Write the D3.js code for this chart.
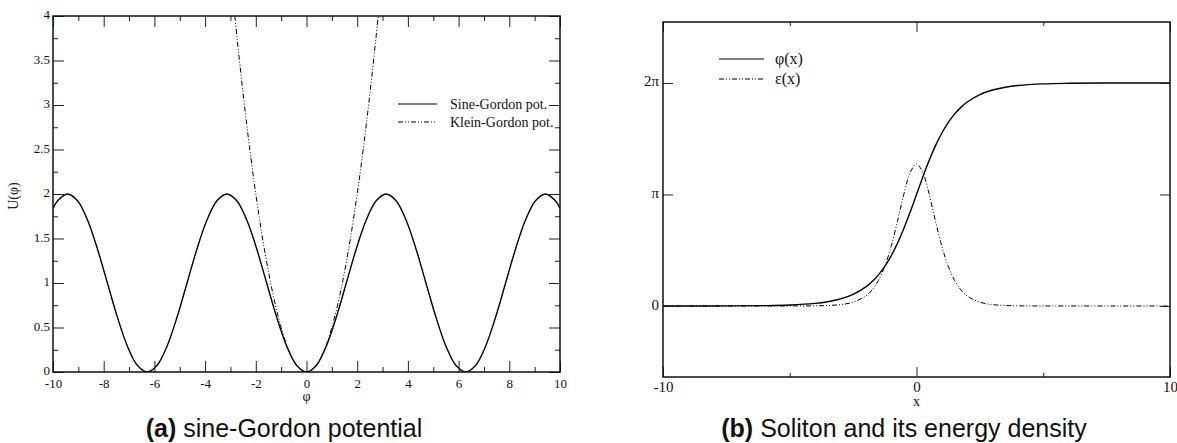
<!DOCTYPE html>
<html>
<head>
<meta charset="utf-8">
<script src="https://cdn.jsdelivr.net/npm/d3@7"></script>
<style>
  body { margin: 0; background: #fff; }
  svg { display: block; }
</style>
</head>
<body>
<svg id="chart" width="1177" height="443"></svg>
<script>
// ---- panel (a): sine-Gordon vs Klein-Gordon potential ----
const phiGrid = [
  -10, -9.817, -9.425, -9.032, -8.639, -8.247, -7.854, -7.461, -7.069, -6.676,
  -6.283, -5.890, -5.498, -5.105, -4.712, -4.320, -3.927, -3.534, -3.142, -2.749,
  -2.356, -1.963, -1.571, -1.178, -0.785, -0.393, 0,
  0.393, 0.785, 1.178, 1.571, 1.963, 2.356, 2.749, 3.142, 3.534, 3.927,
  4.320, 4.712, 5.105, 5.498, 5.890, 6.283, 6.676, 7.069, 7.461, 7.854,
  8.247, 8.639, 9.032, 9.425, 9.817, 10
];
const sineGordonPot = [
  1.839, 1.924, 2, 1.924, 1.707, 1.383, 1, 0.617, 0.293, 0.076,
  0, 0.076, 0.293, 0.617, 1, 1.383, 1.707, 1.924, 2, 1.924,
  1.707, 1.383, 1, 0.617, 0.293, 0.076, 0,
  0.076, 0.293, 0.617, 1, 1.383, 1.707, 1.924, 2, 1.924, 1.707,
  1.383, 1, 0.617, 0.293, 0.076, 0, 0.076, 0.293, 0.617, 1,
  1.383, 1.707, 1.924, 2, 1.924, 1.839
];
const kgPhi = [
  -2.828, -2.75, -2.5, -2.25, -2, -1.75, -1.5, -1.25, -1, -0.75, -0.5, -0.25, 0,
  0.25, 0.5, 0.75, 1, 1.25, 1.5, 1.75, 2, 2.25, 2.5, 2.75, 2.828
];
const kleinGordonPot = [
  4, 3.781, 3.125, 2.531, 2, 1.531, 1.125, 0.781, 0.5, 0.281, 0.125, 0.031, 0,
  0.031, 0.125, 0.281, 0.5, 0.781, 1.125, 1.531, 2, 2.531, 3.125, 3.781, 4
];
const xTicksA = [-10, -8, -6, -4, -2, 0, 2, 4, 6, 8, 10];
const xMinorA = [-9, -7, -5, -3, -1, 1, 3, 5, 7, 9];
const yTicksA = [0, 0.5, 1, 1.5, 2, 2.5, 3, 3.5, 4];
const yMinorA = [0.25, 0.75, 1.25, 1.75, 2.25, 2.75, 3.25, 3.75];
const legendA = ['Sine-Gordon pot.', 'Klein-Gordon pot.'];

// ---- panel (b): kink and its energy density ----
const xGrid = [
  -10, -8, -6, -5, -4, -3.5, -3, -2.5, -2, -1.75, -1.5, -1.25, -1, -0.75, -0.5, -0.25, 0,
  0.25, 0.5, 0.75, 1, 1.25, 1.5, 1.75, 2, 2.5, 3, 3.5, 4, 5, 6, 8, 10
];
const kinkPhi = [
  0, 0.001, 0.010, 0.027, 0.073, 0.121, 0.199, 0.328, 0.538, 0.688, 0.878, 1.117, 1.410, 1.766, 2.181, 2.646, 3.1416,
  3.637, 4.102, 4.517, 4.873, 5.166, 5.405, 5.595, 5.745, 5.955, 6.084, 6.162, 6.210, 6.256, 6.273, 6.282, 6.283
];
const energyDensity = [
  0, 0, 0.0001, 0.0007, 0.0054, 0.0146, 0.0395, 0.106, 0.283, 0.455, 0.723, 1.122, 1.680, 2.386, 3.146, 3.760, 4,
  3.760, 3.146, 2.386, 1.680, 1.122, 0.723, 0.455, 0.283, 0.106, 0.0395, 0.0146, 0.0054, 0.0007, 0.0001, 0, 0
];
const xTicksB = [-10, 0, 10];
const xMinorB = [-5, 5];
const yTicksB = [0, 3.1416, 6.2832];
const yTickLabelsB = ['0', '\u03c0', '2\u03c0'];
const legendB = ['\u03c6(x)', '\u03b5(x)'];

const serif = '"Liberation Serif", "Times New Roman", serif';
const sans = '"Liberation Sans", Arial, sans-serif';
const dashDotDot = '5,2,1,2,1,2';

const svg = d3.select('#chart');

function drawTicks(g, x, y, opt) {
  const [x0, x1] = x.range();
  const [y0, y1] = y.range();

  const sides = [
    { axis: d3.axisBottom(x), t: `translate(0,${y0})`, major: opt.xMajor, minor: opt.xMinor, fmt: opt.xFmt, pad: opt.xPad },
    { axis: d3.axisTop(x), t: `translate(0,${y1})`, major: opt.xMajor, minor: opt.xMinor, fmt: () => '' },
    { axis: d3.axisLeft(y), t: `translate(${x0},0)`, major: opt.yMajor, minor: opt.yMinor, fmt: opt.yFmt, pad: opt.yPad, left: true },
    { axis: d3.axisRight(y), t: `translate(${x1},0)`, major: opt.yMajor, minor: opt.yMinor, fmt: () => '' }
  ];

  sides.forEach(s => {
    const ax = g.append('g')
      .attr('transform', s.t)
      .call(s.axis.tickValues(s.major).tickSizeInner(-opt.majorLen).tickSizeOuter(0)
        .tickPadding(s.pad || 3).tickFormat(s.fmt));
    ax.select('.domain').remove();
    ax.selectAll('.tick line').attr('stroke', '#222').attr('stroke-width', 1);
    ax.selectAll('.tick text')
      .attr('fill', '#111')
      .style('font-family', serif)
      .style('font-size', opt.fontSize + 'px');
    if (s.left) ax.selectAll('.tick text').attr('dy', '0.2em');

    if (s.minor.length) {
      const am = g.append('g')
        .attr('transform', s.t)
        .call(s.axis.tickValues(s.minor).tickSizeInner(-opt.minorLen).tickFormat(() => ''));
      am.select('.domain').remove();
      am.selectAll('.tick line').attr('stroke', '#222').attr('stroke-width', 1);
    }
  });

  g.append('rect')
    .attr('x', x0).attr('y', y1)
    .attr('width', x1 - x0).attr('height', y0 - y1)
    .attr('fill', 'none')
    .attr('stroke', '#111')
    .attr('stroke-width', 1.5);
}

function clipFor(id, x, y) {
  svg.append('clipPath').attr('id', id)
    .append('rect')
    .attr('x', x.range()[0]).attr('y', y.range()[1])
    .attr('width', x.range()[1] - x.range()[0])
    .attr('height', y.range()[0] - y.range()[1]);
}

// ================= panel (a) =================
const xA = d3.scaleLinear().domain([-10, 10]).range([53, 560]);
const yA = d3.scaleLinear().domain([0, 4]).range([372, 16]);
const gA = svg.append('g');
clipFor('clipA', xA, yA);

const lineA = d3.line().curve(d3.curveCatmullRom.alpha(0.5));

gA.append('path')
  .attr('clip-path', 'url(#clipA)')
  .attr('d', lineA(phiGrid.map((p, i) => [xA(p), yA(sineGordonPot[i])])))
  .attr('fill', 'none')
  .attr('stroke', '#000')
  .attr('stroke-width', 1.4);

gA.append('path')
  .attr('clip-path', 'url(#clipA)')
  .attr('d', lineA(kgPhi.map((p, i) => [xA(p), yA(kleinGordonPot[i])])))
  .attr('fill', 'none')
  .attr('stroke', '#000')
  .attr('stroke-width', 1)
  .attr('stroke-dasharray', dashDotDot);

drawTicks(gA, xA, yA, {
  xMajor: xTicksA, xMinor: xMinorA, yMajor: yTicksA, yMinor: yMinorA,
  xFmt: d => String(d), yFmt: d => String(d),
  majorLen: 11, minorLen: 5, xPad: 7, yPad: 3, fontSize: 13
});

gA.append('text')
  .attr('transform', 'translate(18,196) rotate(-90)')
  .attr('text-anchor', 'middle')
  .style('font-family', serif)
  .style('font-size', '14px')
  .attr('fill', '#222')
  .text('U(\u03c6)');

gA.append('text')
  .attr('x', xA(0)).attr('y', 401)
  .attr('text-anchor', 'middle')
  .style('font-family', serif)
  .style('font-size', '14px')
  .attr('fill', '#111')
  .text('\u03c6');

legendA.forEach((name, i) => {
  const ly = 104 + i * 18;
  gA.append('line')
    .attr('x1', 398).attr('x2', 437).attr('y1', ly).attr('y2', ly)
    .attr('stroke', '#000')
    .attr('stroke-width', i === 0 ? 1.2 : 1)
    .attr('stroke-dasharray', i === 0 ? null : dashDotDot);
  gA.append('text')
    .attr('x', 450).attr('y', ly + 5)
    .style('font-family', serif)
    .style('font-size', '14px')
    .attr('fill', '#111')
    .text(name);
});

// ================= panel (b) =================
const xB = d3.scaleLinear().domain([-10, 10]).range([663, 1170]);
const yB = d3.scaleLinear().domain([-2, 8]).range([377, 22]);
const gB = svg.append('g');
clipFor('clipB', xB, yB);

const lineB = d3.line().curve(d3.curveCatmullRom.alpha(0.5));

gB.append('path')
  .attr('clip-path', 'url(#clipB)')
  .attr('d', lineB(xGrid.map((v, i) => [xB(v), yB(energyDensity[i])])))
  .attr('fill', 'none')
  .attr('stroke', '#000')
  .attr('stroke-width', 1)
  .attr('stroke-dasharray', dashDotDot);

gB.append('path')
  .attr('clip-path', 'url(#clipB)')
  .attr('d', lineB(xGrid.map((v, i) => [xB(v), yB(kinkPhi[i])])))
  .attr('fill', 'none')
  .attr('stroke', '#000')
  .attr('stroke-width', 1.4);

drawTicks(gB, xB, yB, {
  xMajor: xTicksB, xMinor: xMinorB, yMajor: yTicksB, yMinor: [],
  xFmt: d => String(d), yFmt: (d, i) => yTickLabelsB[i],
  majorLen: 10, minorLen: 4, xPad: 4, yPad: 4, fontSize: 15
});

gB.append('text')
  .attr('x', xB(0)).attr('y', 406)
  .attr('text-anchor', 'middle')
  .style('font-family', serif)
  .style('font-size', '14px')
  .attr('fill', '#111')
  .text('x');

legendB.forEach((name, i) => {
  const ly = 59 + i * 20;
  gB.append('line')
    .attr('x1', 719).attr('x2', 764).attr('y1', ly).attr('y2', ly)
    .attr('stroke', '#000')
    .attr('stroke-width', i === 0 ? 1.2 : 1)
    .attr('stroke-dasharray', i === 0 ? null : dashDotDot);
  gB.append('text')
    .attr('x', 775).attr('y', ly + 5)
    .style('font-family', serif)
    .style('font-size', '16px')
    .attr('fill', '#111')
    .text(name);
});

// ================= captions =================
[['(a)', ' sine-Gordon potential', 284], ['(b)', ' Soliton and its energy density', 904]]
  .forEach(([tag, label, cx]) => {
    const t = svg.append('text')
      .attr('x', cx).attr('y', 437)
      .attr('text-anchor', 'middle')
      .style('font-family', sans)
      .style('font-size', '25px')
      .attr('fill', '#111');
    t.append('tspan').attr('font-weight', 'bold').text(tag);
    t.append('tspan').text(label);
  });
</script>
</body>
</html>
